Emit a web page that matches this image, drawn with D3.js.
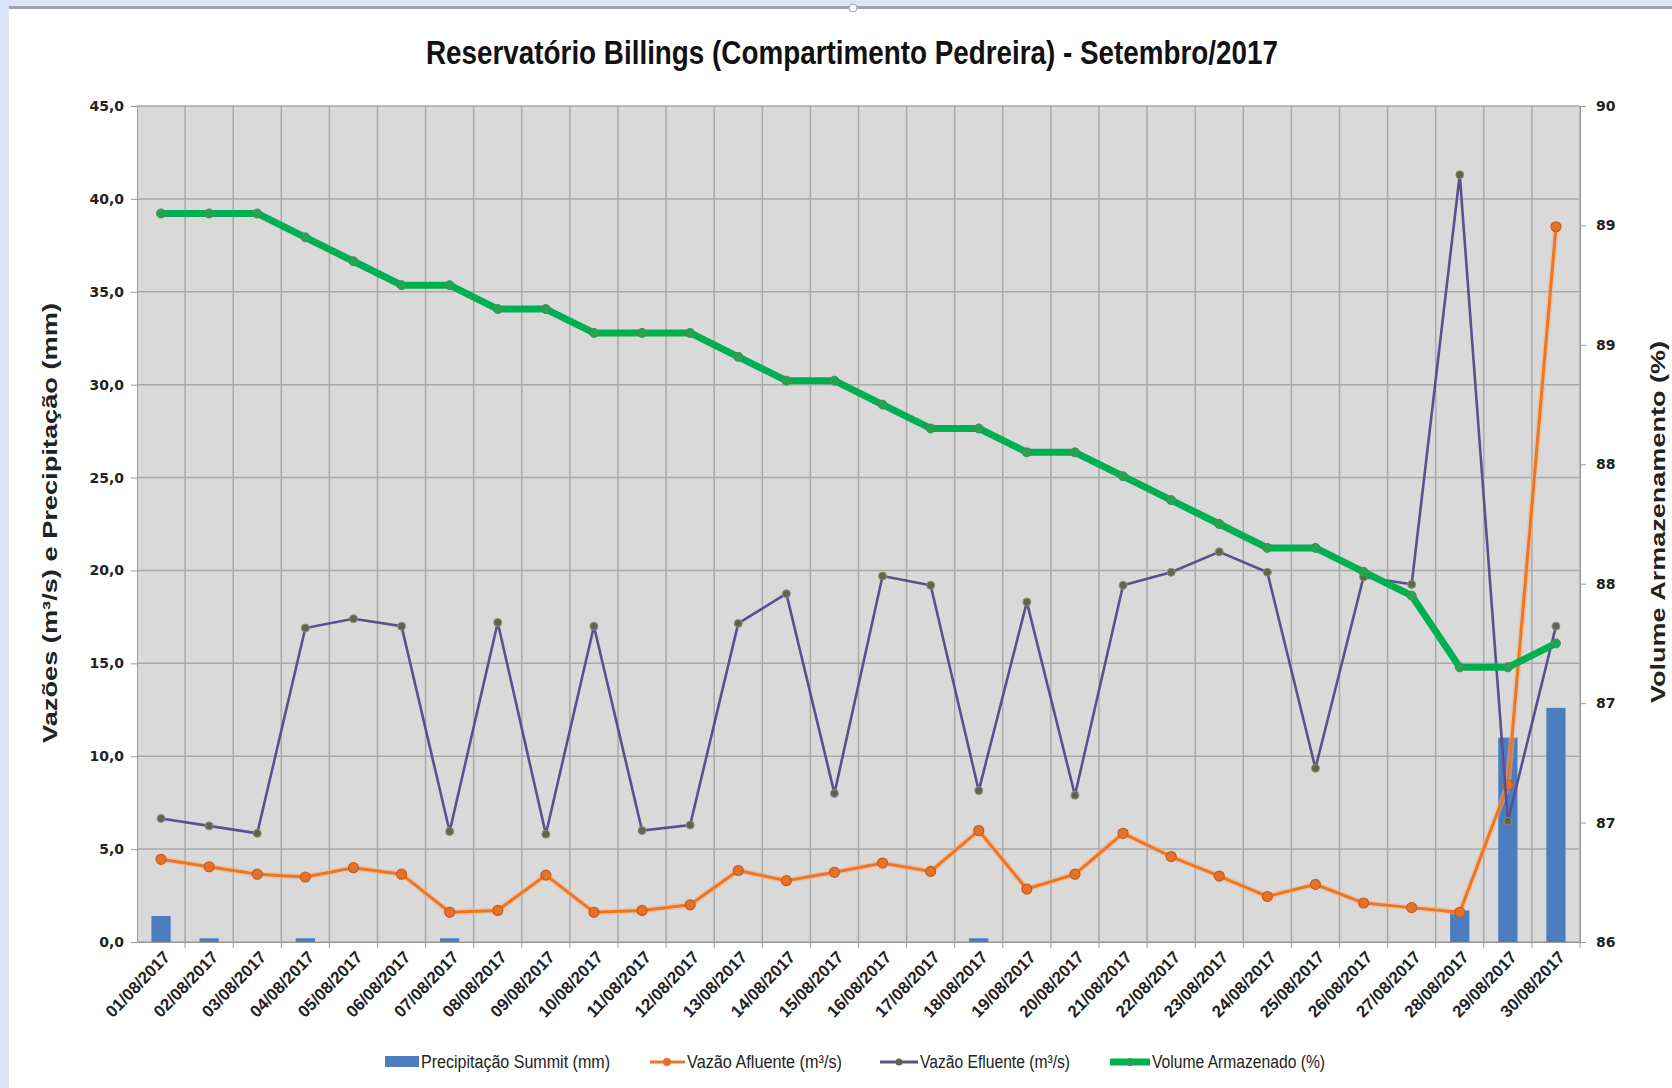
<!DOCTYPE html>
<html lang="pt">
  <head>
    <meta charset="UTF-8" />
    <script src="https://cdn.jsdelivr.net/npm/d3@7"></script>
    <style>
      * {
        margin: 0;
        padding: 0;
      }
      body {
        background: #fff;
      }
      #container svg {
        display: block;
      }
    </style>
    <title>Reservatório Billings</title>
  </head>
  <body>
    <div id="container"></div>
  </body>
  <script>
    const dates = [
      '01/08/2017', '02/08/2017', '03/08/2017', '04/08/2017', '05/08/2017',
      '06/08/2017', '07/08/2017', '08/08/2017', '09/08/2017', '10/08/2017',
      '11/08/2017', '12/08/2017', '13/08/2017', '14/08/2017', '15/08/2017',
      '16/08/2017', '17/08/2017', '18/08/2017', '19/08/2017', '20/08/2017',
      '21/08/2017', '22/08/2017', '23/08/2017', '24/08/2017', '25/08/2017',
      '26/08/2017', '27/08/2017', '28/08/2017', '29/08/2017', '30/08/2017',
    ];
    const precipitacao = [
      1.4, 0.2, 0, 0.2, 0, 0, 0.2, 0, 0, 0, 0, 0, 0, 0, 0,
      0, 0, 0.2, 0, 0, 0, 0, 0, 0, 0, 0, 0, 1.7, 11.0, 12.6,
    ];
    const vazaoAfluente = [
      4.45, 4.05, 3.65, 3.5, 4.0, 3.65, 1.6, 1.7, 3.6, 1.6, 1.7, 2.0, 3.85, 3.3, 3.75,
      4.25, 3.8, 6.0, 2.85, 3.65, 5.85, 4.6, 3.55, 2.45, 3.1, 2.1, 1.85, 1.6, 8.45, 38.5,
    ];
    const vazaoEfluente = [
      6.65, 6.25, 5.85, 16.9, 17.4, 17.0, 5.95, 17.2, 5.8, 17.0, 6.0, 6.3, 17.15, 18.75, 8.0,
      19.7, 19.2, 8.15, 18.3, 7.9, 19.2, 19.9, 21.0, 19.9, 9.35, 19.65, 19.25, 41.3, 6.5, 17.0,
    ];
    const volume = [
      89.05, 89.05, 89.05, 88.95, 88.85, 88.75, 88.75, 88.65, 88.65, 88.55, 88.55, 88.55, 88.45, 88.35, 88.35,
      88.25, 88.15, 88.15, 88.05, 88.05, 87.95, 87.85, 87.75, 87.65, 87.65, 87.55, 87.45, 87.15, 87.15, 87.25,
    ];
    const leftTicks = [0, 5, 10, 15, 20, 25, 30, 35, 40, 45];
    const rightTicks = [86, 86.5, 87, 87.5, 88, 88.5, 89, 89.5];

    const width = 1672;
    const height = 1088;
    const plot = { left: 137, right: 1580, top: 106, bottom: 942 };
    const narrow = "'Liberation Sans Narrow', 'Arial Narrow', 'Liberation Sans', sans-serif";

    const svg = d3
      .select('#container')
      .append('svg')
      .attr('width', width)
      .attr('height', height);

    // window frame bits
    svg.append('rect').attr('x', 0).attr('y', 0).attr('width', width).attr('height', 6).attr('fill', '#dce5f8');
    svg.append('rect').attr('x', 0).attr('y', 6).attr('width', width).attr('height', 3).attr('fill', '#9da3ad');
    svg.append('rect').attr('x', 0).attr('y', 0).attr('width', 9).attr('height', height).attr('fill', '#dce5f8');
    svg.append('circle').attr('cx', 853).attr('cy', 8).attr('r', 4).attr('fill', '#fff').attr('stroke', '#9da3ad');

    const x = d3.scaleBand().domain(dates).range([plot.left, plot.right]).padding(0);
    const yL = d3.scaleLinear().domain([0, 45]).range([plot.bottom, plot.top]);
    const yR = d3.scaleLinear().domain([86, 89.5]).range([plot.bottom, plot.top]);
    const cx = (d) => x(d) + x.bandwidth() / 2;

    const ptFmt = d3.formatLocale({ decimal: ',', thousands: '.', grouping: [3], currency: ['R$', ''] }).format('.1f');

    // plot background
    svg
      .append('rect')
      .attr('x', plot.left)
      .attr('y', plot.top)
      .attr('width', plot.right - plot.left)
      .attr('height', plot.bottom - plot.top)
      .attr('fill', '#d9d9d9');

    // grid
    const grid = svg.append('g').attr('stroke', '#a9a9a9').attr('stroke-width', 1.5);
    grid
      .selectAll('line.h')
      .data(leftTicks)
      .join('line')
      .attr('x1', plot.left)
      .attr('x2', plot.right)
      .attr('y1', (d) => yL(d))
      .attr('y2', (d) => yL(d));
    grid
      .selectAll('line.v')
      .data(dates)
      .join('line')
      .attr('x1', (d) => x(d) + x.bandwidth())
      .attr('x2', (d) => x(d) + x.bandwidth())
      .attr('y1', plot.top)
      .attr('y2', plot.bottom);

    // left axis
    const axL = svg
      .append('g')
      .attr('transform', `translate(${plot.left},0)`)
      .call(d3.axisLeft(yL).tickValues(leftTicks).tickFormat(ptFmt).tickSize(6).tickPadding(7));
    axL.select('.domain').attr('stroke', '#9a9a9a');
    axL.selectAll('.tick line').attr('stroke', '#9a9a9a');
    axL
      .selectAll('text')
      .attr('font-family', "'DejaVu Sans', Verdana, sans-serif")
      .attr('font-weight', 'bold')
      .attr('font-size', 14)
      .attr('fill', '#222');

    // right axis
    const axR = svg
      .append('g')
      .attr('transform', `translate(${plot.right},0)`)
      .call(d3.axisRight(yR).tickValues(rightTicks).tickFormat((d) => (d).toFixed(0)).tickSize(6).tickPadding(10));
    axR.select('.domain').attr('stroke', '#9a9a9a');
    axR.selectAll('.tick line').attr('stroke', '#9a9a9a');
    axR
      .selectAll('text')
      .attr('font-family', "'DejaVu Sans', Verdana, sans-serif")
      .attr('font-weight', 'bold')
      .attr('font-size', 14)
      .attr('fill', '#222');

    // bottom axis
    const axB = svg
      .append('g')
      .attr('transform', `translate(0,${plot.bottom})`)
      .call(d3.axisBottom(x).tickSize(0).tickPadding(0));
    axB.select('.domain').attr('stroke', '#9a9a9a');
    axB
      .append('g')
      .selectAll('line')
      .data(dates)
      .join('line')
      .attr('x1', (d) => x(d) + x.bandwidth())
      .attr('x2', (d) => x(d) + x.bandwidth())
      .attr('y1', 0)
      .attr('y2', 6)
      .attr('stroke', '#9a9a9a');
    axB
      .selectAll('.tick text')
      .attr('font-family', narrow)
      .attr('font-weight', 'bold')
      .attr('font-size', 17)
      .attr('textLength', 84)
      .attr('lengthAdjust', 'spacingAndGlyphs')
      .attr('fill', '#222')
      .attr('text-anchor', 'end')
      .attr('dy', 0)
      .attr('transform', 'translate(10,16) rotate(-46)');

    // bars
    const barW = x.bandwidth() * 0.4;
    svg
      .append('g')
      .selectAll('rect')
      .data(dates)
      .join('rect')
      .attr('x', (d) => cx(d) - barW / 2)
      .attr('y', (d, i) => yL(precipitacao[i]))
      .attr('width', barW)
      .attr('height', (d, i) => plot.bottom - yL(precipitacao[i]))
      .attr('fill', '#4a7ebf');

    const line = (scale, values) =>
      d3
        .line()
        .x((d) => cx(d))
        .y((d, i) => scale(values[i]));

    // vazão afluente
    svg
      .append('path')
      .datum(dates)
      .attr('d', line(yL, vazaoAfluente))
      .attr('fill', 'none')
      .attr('stroke', '#f4b183')
      .attr('stroke-opacity', 0.5)
      .attr('stroke-width', 6);
    svg
      .append('path')
      .datum(dates)
      .attr('d', line(yL, vazaoAfluente))
      .attr('fill', 'none')
      .attr('stroke', '#ee7623')
      .attr('stroke-width', 3);
    svg
      .append('g')
      .selectAll('circle')
      .data(dates)
      .join('circle')
      .attr('cx', cx)
      .attr('cy', (d, i) => yL(vazaoAfluente[i]))
      .attr('r', 5)
      .attr('fill', '#e8712a')
      .attr('stroke', '#c65a1e')
      .attr('stroke-width', 1.2);

    // vazão efluente
    svg
      .append('path')
      .datum(dates)
      .attr('d', line(yL, vazaoEfluente))
      .attr('fill', 'none')
      .attr('stroke', '#5b4f8e')
      .attr('stroke-width', 2.6);
    svg
      .append('g')
      .selectAll('circle')
      .data(dates)
      .join('circle')
      .attr('cx', cx)
      .attr('cy', (d, i) => yL(vazaoEfluente[i]))
      .attr('r', 4)
      .attr('fill', '#5d6650')
      .attr('stroke', '#8a9478')
      .attr('stroke-width', 1);

    // volume armazenado
    svg
      .append('path')
      .datum(dates)
      .attr('d', line(yR, volume))
      .attr('fill', 'none')
      .attr('stroke', '#00b050')
      .attr('stroke-width', 7)
      .attr('stroke-linejoin', 'round');
    svg
      .append('g')
      .selectAll('circle')
      .data(dates)
      .join('circle')
      .attr('cx', cx)
      .attr('cy', (d, i) => yR(volume[i]))
      .attr('r', 4.5)
      .attr('fill', '#1fa84f')
      .attr('stroke', '#4d8a52')
      .attr('stroke-width', 1);

    // title
    svg
      .append('text')
      .text('Reservatório Billings (Compartimento Pedreira) - Setembro/2017')
      .attr('x', 852)
      .attr('y', 64)
      .attr('text-anchor', 'middle')
      .attr('font-family', narrow)
      .attr('font-weight', 'bold')
      .attr('font-size', 33)
      .attr('textLength', 852)
      .attr('lengthAdjust', 'spacingAndGlyphs')
      .attr('fill', '#111');

    // axis titles
    svg
      .append('text')
      .text('Vazões (m³/s) e Precipitação (mm)')
      .attr('transform', 'translate(57,523) rotate(-90)')
      .attr('text-anchor', 'middle')
      .attr('font-family', "'Liberation Sans', Arial, sans-serif")
      .attr('font-weight', 'bold')
      .attr('font-size', 21)
      .attr('textLength', 440)
      .attr('lengthAdjust', 'spacingAndGlyphs')
      .attr('fill', '#222');
    svg
      .append('text')
      .text('Volume Armazenamento (%)')
      .attr('transform', 'translate(1665,522) rotate(-90)')
      .attr('text-anchor', 'middle')
      .attr('font-family', "'Liberation Sans', Arial, sans-serif")
      .attr('font-weight', 'bold')
      .attr('font-size', 21)
      .attr('textLength', 362)
      .attr('lengthAdjust', 'spacingAndGlyphs')
      .attr('fill', '#222');

    // legend
    const legend = svg.append('g').attr('font-family', narrow).attr('font-size', 18).attr('fill', '#222');
    const legY = 1062;
    const legText = (label, xPos, len) =>
      legend
        .append('text')
        .text(label)
        .attr('x', xPos)
        .attr('y', legY + 6)
        .attr('textLength', len)
        .attr('lengthAdjust', 'spacingAndGlyphs');

    legend.append('rect').attr('x', 385).attr('y', legY - 6).attr('width', 34).attr('height', 11).attr('fill', '#4a7ebf');
    legText('Precipitação Summit (mm)', 421, 189);

    legend.append('line').attr('x1', 650).attr('x2', 685).attr('y1', legY).attr('y2', legY).attr('stroke', '#ee7623').attr('stroke-width', 3);
    legend.append('circle').attr('cx', 667).attr('cy', legY).attr('r', 4).attr('fill', '#e8712a');
    legText('Vazão Afluente (m³/s)', 687, 155);

    legend.append('line').attr('x1', 880).attr('x2', 918).attr('y1', legY).attr('y2', legY).attr('stroke', '#5b4f8e').attr('stroke-width', 3);
    legend.append('circle').attr('cx', 899).attr('cy', legY).attr('r', 3.5).attr('fill', '#5d6650');
    legText('Vazão Efluente (m³/s)', 920, 150);

    legend.append('line').attr('x1', 1110).attr('x2', 1150).attr('y1', legY).attr('y2', legY).attr('stroke', '#00b050').attr('stroke-width', 7);
    legend.append('circle').attr('cx', 1130).attr('cy', legY).attr('r', 4).attr('fill', '#1fa84f');
    legText('Volume Armazenado (%)', 1152, 173);
  </script>
</html>
